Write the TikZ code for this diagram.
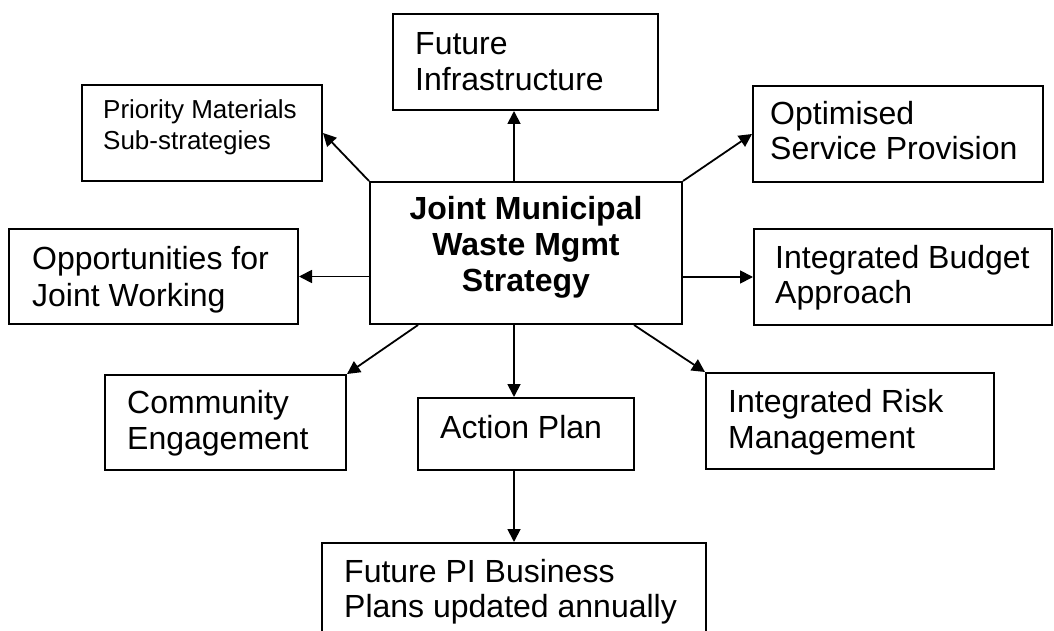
\documentclass[tikz,border=0pt]{standalone}
\usepackage{fontspec}
\setmainfont{Liberation Sans}
\usetikzlibrary{arrows.meta,calc}
\begin{document}
\begin{tikzpicture}[x=1pt,y=-1pt,
  box/.style={draw=black,line width=2pt,rectangle,inner sep=0pt},
  big/.style={font=\fontsize{32}{36}\selectfont,anchor=base west,inner sep=0pt},
  small/.style={font=\fontsize{26}{31}\selectfont,anchor=base west,inner sep=0pt},
  head/.style={font=\fontsize{32}{36}\selectfont\bfseries,anchor=base,inner sep=0pt},
  link/.style={line width=1.8pt,-{Triangle[length=13pt,width=13pt]}}
]
\fill[white] (0,0) rectangle (1054,631);
\clip (0,0) rectangle (1054,631);

% boxes
\node[box,minimum width=312pt,minimum height=142pt] (cen) at (526,253) {};
\node[box,minimum width=265pt,minimum height=96pt] (fi) at (525.5,62) {};
\node[box,minimum width=240pt,minimum height=96pt] (pm) at (202,133) {};
\node[box,minimum width=290pt,minimum height=96pt] (os) at (898,134) {};
\node[box,minimum width=289pt,minimum height=95pt] (op) at (153.5,276.5) {};
\node[box,minimum width=298pt,minimum height=96pt] (bg) at (903,277) {};
\node[box,minimum width=241pt,minimum height=95pt] (ce) at (225.5,422.5) {};
\node[box,minimum width=216pt,minimum height=72pt] (ap) at (526,434) {};
\node[box,minimum width=288pt,minimum height=96pt] (rk) at (850,421) {};
\node[box,minimum width=384pt,minimum height=117pt] (fp) at (514,601.5) {};

% texts
\node[head] (cen1) at (526,219) {Joint Municipal};
\node[head] (cen2) at (526,255) {Waste Mgmt};
\node[head] (cen3) at (526,291) {Strategy};

\node[big] (fi1) at (415,55) {Future};
\node[big] (fi2) at (415,91) {Infrastructure};

\node[small] (pm1) at (103,119) {Priority Materials};
\node[small] (pm2) at (103,150) {Sub-strategies};

\node[big] (os1) at (770,125) {Optimised};
\node[big] (os2) at (770,160) {Service Provision};

\node[big] (op1) at (32,269) {Opportunities for};
\node[big] (op2) at (32,306) {Joint Working};

\node[big] (bg1) at (775,268) {Integrated Budget};
\node[big] (bg2) at (775,303) {Approach};

\node[big] (ce1) at (127,413) {Community};
\node[big] (ce2) at (127,449) {Engagement};

\node[big] (ap1) at (440,438) {Action Plan};

\node[big] (rk1) at (728,412) {Integrated Risk};
\node[big] (rk2) at (728,448) {Management};

\node[big] (fp1) at (344,582) {Future PI Business};
\node[big] (fp2) at (344,617) {Plans updated annually};

% connectors
\draw[link] (cen.north -| fp.north) -- (fi.south -| fp.north);
\draw[link] (cen.north west) -- (pm.east);
\draw[link] (cen.north east) -- (os.west);
\draw[link] (op.east -| cen.west) -- (op.east);
\draw[link] (bg.west -| cen.east) -- (bg.west);
\draw[link] ($(cen.south west)+(49,0)$) -- (ce.north east);
\draw[link] ($(cen.south east)+(-49,0)$) -- (rk.north west);
\draw[link] (cen.south -| fp.north) -- (ap.north -| fp.north);
\draw[link] (ap.south -| fp.north) -- (fp.north);
\end{tikzpicture}
\end{document}
